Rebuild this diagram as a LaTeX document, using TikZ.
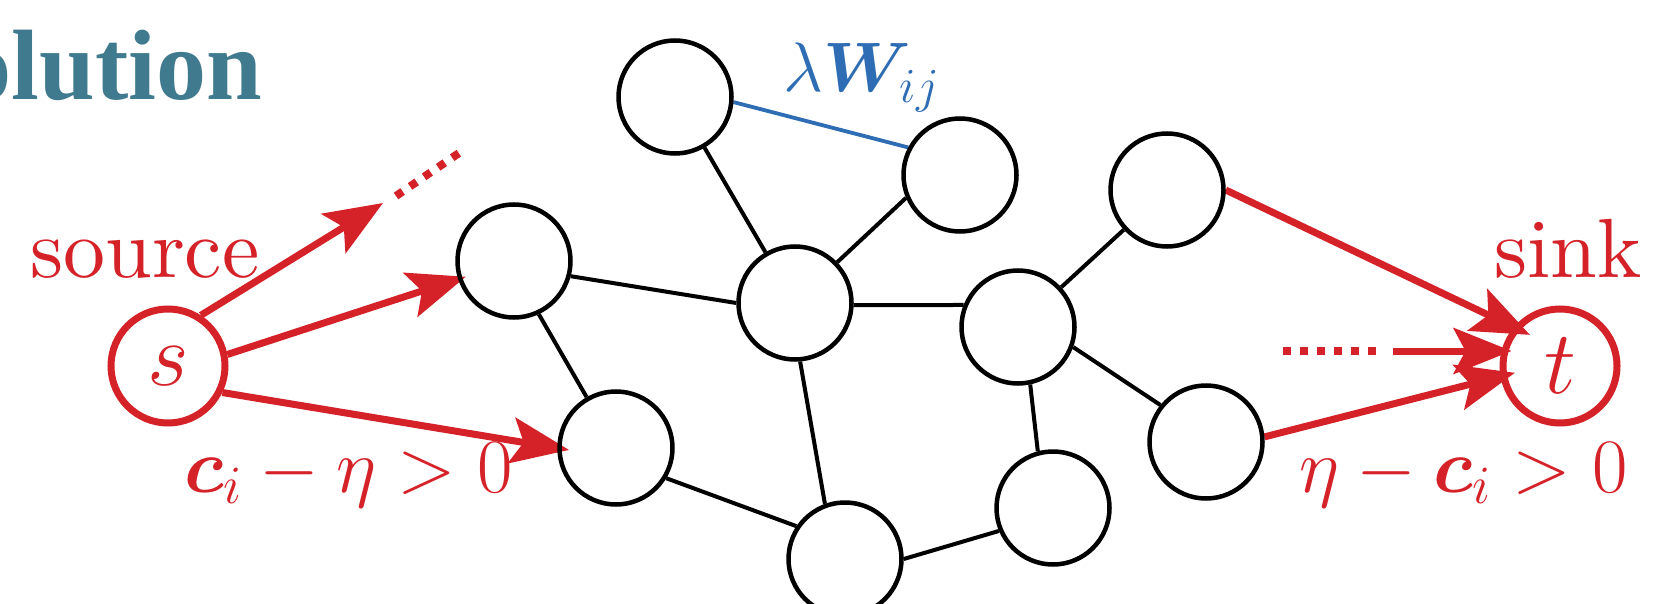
\RequirePackage{fix-cm}
\documentclass[tikz,border=0pt]{standalone}
\usepackage{amsmath,bm}
\usepackage{fontspec}
\setmainfont{lmroman10-regular}[Extension=.otf, BoldFont=lmroman10-bold, ItalicFont=lmroman10-italic]
\newfontfamily\titlefont{Liberation Serif}
\usetikzlibrary{arrows.meta}
\definecolor{myred}{RGB}{213,33,40}
\definecolor{myblue}{RGB}{46,108,180}
\definecolor{myteal}{RGB}{64,122,142}
\pgfdeclarelayer{bg}
\pgfsetlayers{bg,main}
\tikzset{
  vtx/.style={circle, draw=black, line width=4.5pt, minimum size=113pt, inner sep=0pt},
  rvtx/.style={circle, draw=myred, line width=7pt, minimum size=114pt, inner sep=0pt,
    text=myred, font=\fontsize{90}{100}\selectfont},
  edge/.style={draw=black, line width=4pt},
  wedge/.style={draw=myblue, line width=3.8pt},
  rarrow/.style={draw=myred, line width=7pt, -{Stealth[length=58pt,width=46pt,inset=12pt]}},
  rdots/.style={draw=myred, line width=8pt, dash pattern=on 8pt off 9pt},
  rlbl/.style={text=myred, inner sep=0pt, font=\fontsize{84}{100}\selectfont},
  mlbl/.style={text=myred, inner sep=0pt, font=\fontsize{77}{92}\selectfont},
}
\begin{document}
\begin{tikzpicture}[x=1pt, y=-1pt]
\useasboundingbox (0,0) rectangle (1654,604);

% vertices
\node[rvtx] (s) at (168,366) {$s$};
\node[rvtx] (t) at (1560,366) {$t$};
\node[vtx] (A) at (514,261) {};
\node[vtx] (B) at (616,448) {};
\node[vtx] (C) at (675,97) {};
\node[vtx] (D) at (960,175) {};
\node[vtx] (E) at (795,303) {};
\node[vtx] (F) at (1018,327) {};
\node[vtx] (G) at (845,559) {};
\node[vtx] (H) at (1167,190) {};
\node[vtx] (I) at (1206,442) {};
\node[vtx] (J) at (1053,508) {};

% free ends
\coordinate (u1) at (383,203);
\coordinate (d0) at (396,196);
\coordinate (d1) at (462,151);
\coordinate (e0) at (1283,351);
\coordinate (e1) at (1376,351);
\coordinate (m0) at (1393,351);

% texts
\node[anchor=base east, text=myteal, inner sep=0pt,
  font=\titlefont\bfseries\fontsize{100}{110}\selectfont] (title) at (262,100) {Solution};
\node[rlbl, anchor=base west] (source) at (30,277) {source};
\node[rlbl, anchor=base west] (sink) at (1494,277) {sink};
\node[anchor=base west, text=myblue, inner sep=0pt, font=\fontsize{70}{84}\selectfont]
  (wlab) at (783,92) {$\lambda\boldsymbol{W}_{ij}$};
\node[mlbl, anchor=base west] (lc) at (184,492) {$\boldsymbol{c}_i-\eta>0$};
\node[mlbl, anchor=base west] (rc) at (1299,492) {$\eta-\boldsymbol{c}_i>0$};

\begin{pgfonlayer}{bg}
% black edges
\draw[edge] (A.-15) -- (E.180);
\draw[edge] (A.-65) -- (B.120);
\draw[edge] (C) -- (E);
\draw[edge] (D.203) -- (E.44);
\draw[edge] (E.-2) -- (F.158);
\draw[edge] (E.-85) -- (G.110);
\draw[edge] (B.-31) -- (G.146);
\draw[edge] (G.0) -- (J.203);
\draw[edge] (F.-78) -- (J.105);
\draw[edge] (F) -- (H);
\draw[edge] (F.-20) -- (I.141);
\draw[wedge] (C.-5) -- (D.152);

% red arrows
\draw[rarrow] (s.57) -- (u1);
\draw[rdots] (d0) -- (d1);
\draw[rarrow, shorten >=-8pt] (s.11) -- (A);
\draw[rarrow, shorten >=-12pt] (s.-26) -- (B.180);
\draw[rarrow, shorten >=-18pt] (H.0) -- (t.140);
\draw[rarrow, shorten >=-15pt] (I.5) -- (t.190);
\draw[rdots] (e0) -- (e1);
\draw[rarrow, shorten >=-12pt] (m0) -- (m0 -| t.west);
\end{pgfonlayer}
\end{tikzpicture}
\end{document}
